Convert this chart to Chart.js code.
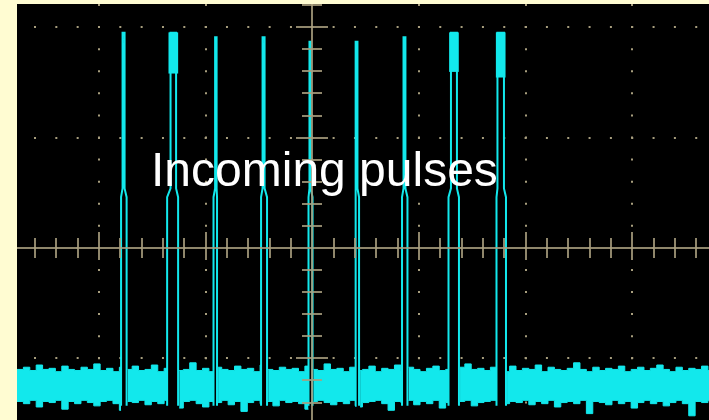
<!DOCTYPE html>
<html>
<head>
<meta charset="utf-8">
<script src="https://cdn.jsdelivr.net/npm/chart.js@4.4.1/dist/chart.umd.min.js"></script>
<style>
  html, body { margin: 0; padding: 0; }
  body { width: 709px; height: 420px; background: #fffcd2; position: relative; overflow: hidden; }
  #scope { position: absolute; left: 17px; top: 4px; background: #000; }
  #caption {
    position: absolute; left: 151px; top: 146px;
    font-family: "Liberation Sans", Arial, sans-serif; font-size: 48px; line-height: 48px;
    color: #fff; white-space: nowrap;
  }
</style>
</head>
<body>
<canvas id="scope" width="692" height="416"></canvas>
<div id="caption">Incoming pulses</div>
<script>
// visible part of the screen, in divisions (0,0 = centre of graticule)
const timeMin = -2.77;
const timeMax = 3.72;
const voltMin = -1.558;
const voltMax = 2.21;

// major divisions that carry a dotted line
const timeDivs = [-2, -1, 0, 1, 2, 3];
const voltDivs = [-1, 0, 1, 2];

// pulses: edges near the baseline, edges near the peak, peak level,
// lower end of the bright top (wide pulses only)
const pulseLead = [-1.794, -1.362, -0.927, -0.481, -0.036, 0.400, 0.841, 1.277, 1.727];
const pulseTrail = [-1.742, -1.259, -0.894, -0.425, 0.002, 0.438, 0.892, 1.375, 1.816];
const pulseTopLead = [-1.780, -1.330, -0.912, -0.467, -0.027, 0.409, 0.855, 1.300, 1.736];
const pulseTopTrail = [-1.761, -1.278, -0.898, -0.448, -0.017, 0.423, 0.873, 1.356, 1.797];
const pulsePeak = [1.950, 1.950, 1.909, 1.909, 1.869, 1.869, 1.909, 1.950, 1.950];
const pulseBlockLow = [null, 1.583, null, null, null, null, null, 1.598, 1.547];
const pulseKnee = 0.46;
const pulseFoot = -1.43;

// noise band envelope, one value every noiseStep div from the left edge
const noiseStep = 0.06;
const noiseTop = [
  -1.10, -1.08, -1.11, -1.06, -1.10, -1.09, -1.12, -1.07, -1.10, -1.11,
  -1.08, -1.10, -1.05, -1.11, -1.09, -1.12, -1.08, -1.10, -1.07, -1.11,
  -1.10, -1.06, -1.12, -1.09, -1.11, -1.08, -1.10, -1.04, -1.11, -1.09,
  -1.12, -1.08, -1.10, -1.11, -1.07, -1.10, -1.09, -1.12, -1.06, -1.10,
  -1.11, -1.08, -1.10, -1.09, -1.12, -1.07, -1.10, -1.11, -1.05, -1.10,
  -1.09, -1.12, -1.08, -1.11, -1.10, -1.07, -1.12, -1.09, -1.10, -1.06,
  -1.11, -1.08, -1.10, -1.12, -1.09, -1.07, -1.11, -1.10, -1.08, -1.12,
  -1.05, -1.10, -1.09, -1.11, -1.08, -1.12, -1.10, -1.07, -1.11, -1.09,
  -1.10, -1.06, -1.12, -1.08, -1.10, -1.11, -1.09, -1.04, -1.10, -1.12,
  -1.08, -1.11, -1.09, -1.10, -1.07, -1.12, -1.10, -1.08, -1.11, -1.09,
  -1.06, -1.10, -1.12, -1.08, -1.11, -1.09, -1.10, -1.07, -1.11, -1.10
];
const noiseBottom = [
  -1.39, -1.41, -1.38, -1.44, -1.39, -1.40, -1.38, -1.46, -1.39, -1.41,
  -1.38, -1.40, -1.43, -1.39, -1.38, -1.41, -1.47, -1.39, -1.40, -1.38,
  -1.42, -1.39, -1.41, -1.38, -1.45, -1.40, -1.39, -1.38, -1.41, -1.44,
  -1.39, -1.40, -1.38, -1.42, -1.39, -1.48, -1.40, -1.38, -1.41, -1.39,
  -1.43, -1.38, -1.40, -1.39, -1.41, -1.46, -1.39, -1.38, -1.40, -1.42,
  -1.39, -1.41, -1.38, -1.44, -1.40, -1.39, -1.38, -1.41, -1.47, -1.39,
  -1.40, -1.38, -1.42, -1.39, -1.41, -1.38, -1.45, -1.40, -1.39, -1.41,
  -1.38, -1.43, -1.40, -1.39, -1.38, -1.41, -1.46, -1.39, -1.40, -1.38,
  -1.42, -1.39, -1.41, -1.38, -1.44, -1.40, -1.39, -1.41, -1.38, -1.50,
  -1.39, -1.40, -1.42, -1.38, -1.41, -1.39, -1.45, -1.40, -1.38, -1.41,
  -1.39, -1.43, -1.40, -1.38, -1.41, -1.52, -1.39, -1.40, -1.38, -1.42
];

const traceColor = '#12e8ec';
const gratColor = '#a89e7e';
const gapPad = 0.01;

// noise samples, cut open where a pulse goes through
function bandPoints(values) {
  const pts = [];
  let k = 0;
  values.forEach((v, i) => {
    const x = timeMin + i * noiseStep;
    while (k < pulseLead.length && pulseLead[k] <= x) {
      const prev = pts.length ? pts[pts.length - 1].y : v;
      pts.push({x: pulseLead[k], y: prev});
      pts.push({x: pulseLead[k], y: null});
      pts.push({x: pulseTrail[k] + gapPad, y: v});
      k++;
    }
    if (k > 0 && x < pulseTrail[k - 1] + gapPad) return;
    pts.push({x, y: v});
  });
  return pts;
}

// each pulse: up the leading edge, over the peak, down the trailing edge
const pulsePoints = [];
pulseLead.forEach((lead, i) => {
  pulsePoints.push(
    {x: lead, y: pulseFoot},
    {x: lead, y: pulseKnee},
    {x: pulseTopLead[i], y: pulseKnee + 0.08},
    {x: pulseTopLead[i], y: pulsePeak[i]},
    {x: pulseTopTrail[i], y: pulsePeak[i]},
    {x: pulseTopTrail[i], y: pulseKnee + 0.08},
    {x: pulseTrail[i], y: pulseKnee},
    {x: pulseTrail[i], y: pulseFoot},
    {x: pulseTrail[i], y: null}
  );
});

const blockPoints = [];
pulseTopLead.forEach((lead, i) => {
  if (pulseBlockLow[i] !== null) {
    blockPoints.push({x: (lead + pulseTopTrail[i]) / 2, y: [pulseBlockLow[i], pulsePeak[i]]});
  }
});

// centre cross with its small ticks, drawn over the trace
const crosshair = {
  id: 'crosshair',
  afterDatasetsDraw(chart) {
    const {ctx, chartArea: a, scales: {x, y}} = chart;
    const cx = Math.round(x.getPixelForValue(0));
    const cy = Math.round(y.getPixelForValue(0));
    ctx.save();
    ctx.globalAlpha = 0.85;
    ctx.strokeStyle = gratColor;
    ctx.lineWidth = 2;
    ctx.beginPath();
    ctx.moveTo(a.left, cy); ctx.lineTo(a.right, cy);
    ctx.moveTo(cx, a.top); ctx.lineTo(cx, a.bottom);
    for (let i = -15; i <= 20; i++) {
      const px = Math.round(x.getPixelForValue(i / 5));
      if (px < a.left || px > a.right) continue;
      const major = i % 5 === 0;
      ctx.moveTo(px, cy - (major ? 16 : 10));
      ctx.lineTo(px, cy + (major ? 12 : 10));
    }
    for (let i = -8; i <= 11; i++) {
      const py = Math.round(y.getPixelForValue(i / 5));
      if (py < a.top || py > a.bottom) continue;
      const len = i % 5 === 0 ? 16 : 10;
      ctx.moveTo(cx - len, py);
      ctx.lineTo(cx + len, py);
    }
    ctx.stroke();
    ctx.restore();
  }
};

new Chart(document.getElementById('scope'), {
  type: 'line',
  data: {
    datasets: [
      {
        label: 'pulse tops',
        type: 'bar',
        data: blockPoints,
        backgroundColor: traceColor,
        borderWidth: 0,
        barThickness: 9
      },
      {
        label: 'pulses',
        data: pulsePoints,
        borderColor: traceColor,
        borderWidth: 2,
        pointRadius: 0,
        spanGaps: false,
        fill: false
      },
      {
        label: 'noise top',
        data: bandPoints(noiseTop),
        borderColor: traceColor,
        borderWidth: 1,
        pointRadius: 0,
        stepped: true,
        spanGaps: false,
        fill: false
      },
      {
        label: 'noise bottom',
        data: bandPoints(noiseBottom),
        borderColor: traceColor,
        backgroundColor: traceColor,
        borderWidth: 1,
        pointRadius: 0,
        stepped: true,
        spanGaps: false,
        fill: '-1'
      }
    ]
  },
  options: {
    responsive: false,
    animation: false,
    events: [],
    layout: { padding: 0 },
    plugins: {
      legend: { display: false },
      tooltip: { enabled: false }
    },
    scales: {
      x: {
        type: 'linear',
        min: timeMin,
        max: timeMax,
        offset: false,
        afterBuildTicks: scale => { scale.ticks = timeDivs.map(value => ({value})); },
        ticks: { display: false },
        grid: { color: gratColor, lineWidth: 2, drawTicks: false, offset: false },
        border: { display: false, dash: [2, 20.08], dashOffset: 0 }
      },
      y: {
        type: 'linear',
        min: voltMin,
        max: voltMax,
        afterBuildTicks: scale => { scale.ticks = voltDivs.map(value => ({value})); },
        ticks: { display: false },
        grid: { color: gratColor, lineWidth: 2, drawTicks: false },
        border: { display: false, dash: [2, 19.33], dashOffset: 4.33 }
      }
    }
  },
  plugins: [crosshair]
});
</script>
</body>
</html>
